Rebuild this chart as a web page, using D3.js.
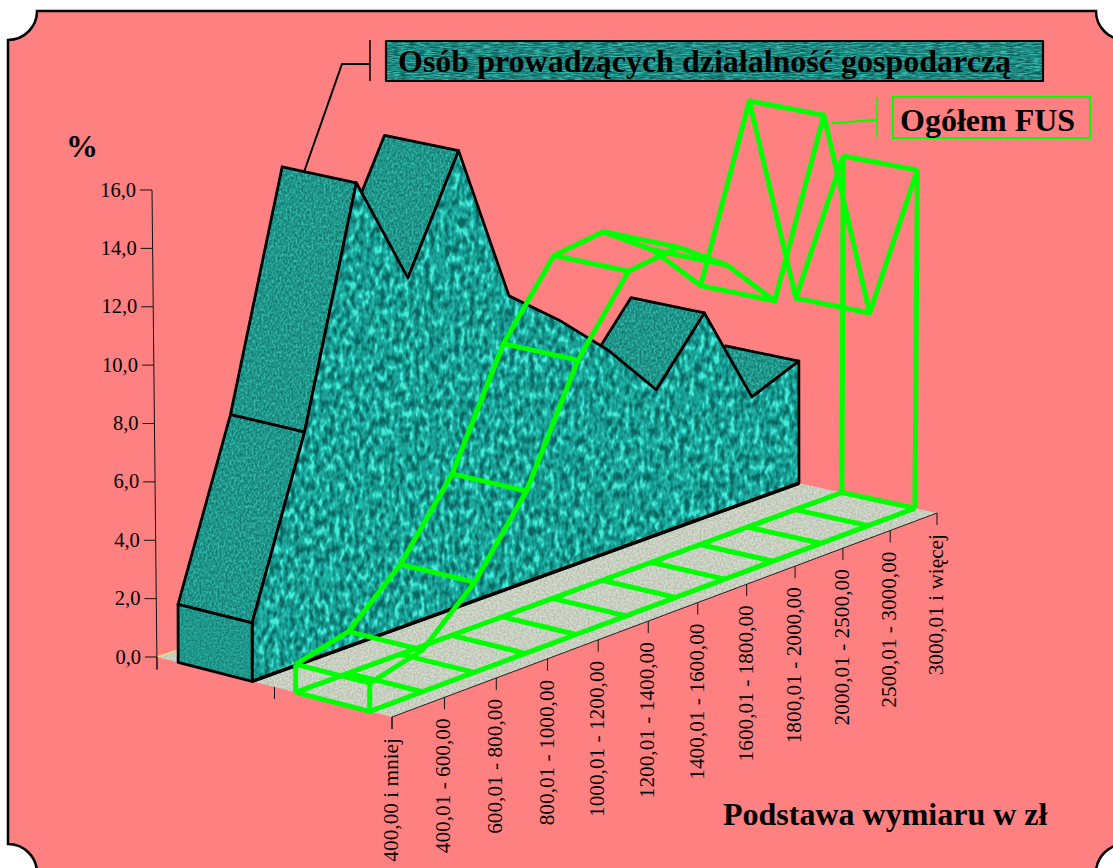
<!DOCTYPE html>
<html><head><meta charset="utf-8">
<script src="https://cdn.jsdelivr.net/npm/d3@7"></script>
<style>html,body{margin:0;padding:0;background:#fff;overflow:hidden}svg{display:block}text{font-family:"Liberation Serif","Times New Roman",serif;fill:#000}</style>
</head><body><svg id="c" width="1113" height="868"></svg>
<script>
const categories=["400,00 i mniej","400,01 - 600,00","600,01 - 800,00","800,01 - 1000,00","1000,01 - 1200,00","1200,01 - 1400,00","1400,01 - 1600,00","1600,01 - 1800,00","1800,01 - 2000,00","2000,01 - 2500,00","2500,01 - 3000,00","3000,01 i więcej"];
const gospodarcza=[2.0,7.89,15.79,11.89,15.62,10.02,8.58,6.94,4.97,7.01,3.54,4.19];
const ogolemFus=[0.96,1.42,3.07,5.52,9.33,11.72,11.91,10.68,8.85,14.56,7.23,11.5];
const yTicks=[0,2,4,6,8,10,12,14,16];
const seriesNames=["Osób prowadzących działalność gospodarczą","Ogółem FUS"];

const svg=d3.select("#c");
const W=1113,H=868;
// oblique projection with a slight perspective
const tS=d3.scalePoint().domain(d3.range(categories.length)).range([0,1]);
const persp=1.065;
const warp=t=>persp*t/(1+(persp-1)*t);
const sS=d3.scaleLinear().domain([0,2]).range([0,1]);
const yS=d3.scaleLinear().domain([0,16]).range([657,190]);
const hScale=d3.scaleLinear().domain([0,2]).range([0.993,1.009]);
const lean=d3.scaleLinear().domain([0,0.81,1.18,2]).range([-0.002,-0.001,0.004,0.008]);
const cO=[157,657],cF=[392,717],cR=[937,513],cB=[705,463];
function floorPt(i,s){const t=warp(tS(i)),u=sS(s);
  const a=d3.interpolate(cO,cF)(u),b=d3.interpolate(cB,cR)(u);
  return d3.interpolate(a,b)(t);}
function P(i,s,v){const p=floorPt(i,s),h=(yS(0)-yS(v))*hScale(s);return [p[0]+lean(s)*h,p[1]-h];}
const bandA=[0.18,0.81],bandB=[1.18,1.81];
const poly=pts=>pts.map(p=>p.join(",")).join(" ");
const line=d3.line();

const defs=svg.append("defs");
function tex(id,fx,fy,octaves,seed,lo,hi,r,g,b){
  const f=defs.append("filter").attr("id",id).attr("filterUnits","userSpaceOnUse")
    .attr("x",0).attr("y",0).attr("width",W).attr("height",H).attr("color-interpolation-filters","sRGB");
  f.append("feTurbulence").attr("type","fractalNoise").attr("baseFrequency",fx+" "+fy).attr("numOctaves",octaves).attr("seed",seed);
  f.append("feColorMatrix").attr("type","matrix").attr("values","1 0 0 0 0 1 0 0 0 0 1 0 0 0 0 0 0 0 0 1");
  const ct=f.append("feComponentTransfer");
  const s=1/(hi-lo);
  ct.append("feFuncR").attr("type","linear").attr("slope",s).attr("intercept",-lo*s);
  ct.append("feFuncG").attr("type","linear").attr("slope",s).attr("intercept",-lo*s);
  ct.append("feFuncB").attr("type","linear").attr("slope",s).attr("intercept",-lo*s);
  const c2=f.append("feComponentTransfer");
  c2.append("feFuncR").attr("type","table").attr("tableValues",r);
  c2.append("feFuncG").attr("type","table").attr("tableValues",g);
  c2.append("feFuncB").attr("type","table").attr("tableValues",b);
}
tex("tFront",0.2,0.11,2,4,0.28,0.72,"0.04 0.07 0.10 0.14 0.28","0.40 0.52 0.63 0.74 0.92","0.38 0.49 0.59 0.69 0.84");
tex("tTop",0.5,0.35,3,9,0.30,0.70,"0.08 0.11 0.14 0.20","0.49 0.56 0.62 0.72","0.45 0.52 0.57 0.66");
tex("tEnd",0.5,0.5,2,12,0.30,0.70,"0.08 0.11 0.14 0.17","0.51 0.57 0.62 0.68","0.47 0.52 0.57 0.62");
tex("tLegend",0.12,0.9,3,6,0.30,0.70,"0.05 0.10 0.14 0.22","0.38 0.50 0.58 0.72","0.36 0.47 0.55 0.68");
tex("tFloor",0.5,0.5,2,3,0.30,0.70,"0.72 0.77 0.80 0.85","0.76 0.80 0.83 0.87","0.70 0.74 0.77 0.82");

let clipN=0;
function texPoly(g,pts,fid){
  const id="cp"+(clipN++);
  defs.append("clipPath").attr("id",id).append("polygon").attr("points",poly(pts));
  g.append("rect").attr("width",W).attr("height",H).attr("filter","url(#"+fid+")").attr("clip-path","url(#"+id+")");
}

// panel
svg.append("path").attr("d","M37,11 H1096 A29,29 0 0 0 1125,40 V844 A29,29 0 0 0 1096,873 H37 A29,29 0 0 0 8,844 V40 A29,29 0 0 0 37,11 Z")
  .attr("fill","#ff8080").attr("stroke","#000").attr("stroke-width",2.5);

// floor
const gFloor=svg.append("g");
const floorPts=[floorPt(0,0),floorPt(0,2),floorPt(11,2),floorPt(11,0)];
texPoly(gFloor,floorPts,"tFloor");
gFloor.append("line").attr("x1",cO[0]).attr("y1",cO[1]).attr("x2",178).attr("y2",650).attr("stroke","#f0e070").attr("stroke-width",1.5);
gFloor.append("line").attr("x1",cF[0]).attr("y1",cF[1]).attr("x2",cR[0]).attr("y2",cR[1]).attr("stroke","#222").attr("stroke-width",1);

// y axis
const gy=svg.append("g");
const axisLean=d3.scaleLinear().domain([0,16]).range([157,152]);
gy.append("line").attr("x1",axisLean(16)).attr("y1",yS(16)).attr("x2",157).attr("y2",670).attr("stroke","#111").attr("stroke-width",1);
const ay=d3.axisLeft(yS).tickValues(yTicks).tickFormat(d=>d3.format(".1f")(d).replace(".",",")).tickSize(12).tickPadding(4);
const gAxis=gy.append("g").call(ay);
gAxis.select(".domain").remove();
gAxis.selectAll(".tick").attr("transform",d=>`translate(${axisLean(d)},${yS(d)})`);
gAxis.selectAll("line").attr("stroke","#111");
gAxis.selectAll("text").style("font-size","20.5px").style("font-family",'"Liberation Serif"').attr("fill","#000");

// depth ticks & category ticks
[[0,0],[0,1],[0,2]].forEach(([i,s])=>{const p=floorPt(i,s);
  svg.append("line").attr("x1",p[0]).attr("y1",p[1]).attr("x2",p[0]).attr("y2",p[1]+12).attr("stroke","#111").attr("stroke-width",1);});
const gx=svg.append("g");
categories.forEach((c,i)=>{const p=floorPt(i,2);
  gx.append("line").attr("x1",p[0]).attr("y1",p[1]).attr("x2",p[0]).attr("y2",p[1]+12).attr("stroke","#111").attr("stroke-width",1);
  gx.append("text").attr("transform",`translate(${p[0]+6},${p[1]+21}) rotate(-90)`).attr("text-anchor","end").style("font-size","21.3px").text(c);
});

// series A
const gA=svg.append("g");
const A=(i,k)=>P(i,bandA[k],gospodarcza[i]);
function outline(g,pts,w){g.append("polygon").attr("points",poly(pts)).attr("fill","none").attr("stroke","#000").attr("stroke-width",w||2.8).attr("stroke-linejoin","round");}
for(let i=categories.length-2;i>=0;i--){
  if(gospodarcza[i+1]>gospodarcza[i]){
    const q=[A(i,0),A(i,1),A(i+1,1),A(i+1,0)];
    texPoly(gA,q,"tTop");outline(gA,q);
  }
}
const frontPts=[floorPt(0,bandA[1]),...categories.map((c,i)=>A(i,1)),floorPt(11,bandA[1])];
texPoly(gA,frontPts,"tFront");outline(gA,frontPts);
const endPts=[floorPt(0,bandA[0]),floorPt(0,bandA[1]),A(0,1),A(0,0)];
texPoly(gA,endPts,"tEnd");outline(gA,endPts);
gA.append("line").attr("x1",floorPt(0,bandA[1])[0]).attr("y1",floorPt(0,bandA[1])[1]).attr("x2",floorPt(11,bandA[1])[0]).attr("y2",floorPt(11,bandA[1])[1]).attr("stroke","#000").attr("stroke-width",3.5);

// series B wireframe
const gB=svg.append("g").attr("fill","none").attr("stroke","#00ff00").attr("stroke-width",5).attr("stroke-linejoin","round");
const B=(i,k)=>P(i,bandB[k],ogolemFus[i]);
const fl=(i,k)=>floorPt(i,bandB[k]);
const idx=d3.range(categories.length);
gB.append("path").attr("d",line(idx.map(i=>fl(i,0))));
gB.append("path").attr("d",line(idx.map(i=>fl(i,1))));
idx.forEach(i=>gB.append("path").attr("d",line([fl(i,0),fl(i,1)])));
[[0,0],[0,1],[11,0],[11,1]].forEach(([i,k])=>gB.append("path").attr("d",line([fl(i,k),B(i,k)])));
gB.append("path").attr("d",line(idx.map(i=>B(i,0))));
gB.append("path").attr("d",line(idx.map(i=>B(i,1))));
idx.forEach(i=>gB.append("path").attr("d",line([B(i,0),B(i,1)])));

// legends
const gL=svg.append("g");
gL.append("path").attr("d","M304,172 L342,64 H370").attr("fill","none").attr("stroke","#000").attr("stroke-width",2);
gL.append("line").attr("x1",370).attr("x2",370).attr("y1",40).attr("y2",81).attr("stroke","#000").attr("stroke-width",1.5);
const lb=[[386,41],[1043,41],[1043,81],[386,81]];
texPoly(gL,lb,"tLegend");outline(gL,lb,2.2);
gL.append("text").attr("x",398).attr("y",72).style("font-size","32px").style("font-weight","bold").text(seriesNames[0]);
gL.append("path").attr("d","M832,123 L877,120").attr("fill","none").attr("stroke","#00ff00").attr("stroke-width",2);
gL.append("line").attr("x1",877).attr("x2",877).attr("y1",97).attr("y2",138).attr("stroke","#00ff00").attr("stroke-width",1.5);
gL.append("rect").attr("x",893).attr("y",97).attr("width",197).attr("height",41).attr("fill","none").attr("stroke","#00ff00").attr("stroke-width",2);
gL.append("text").attr("x",900).attr("y",131).style("font-size","32px").style("font-weight","bold").text(seriesNames[1]);
svg.append("text").attr("x",66).attr("y",157).style("font-size","32px").style("font-weight","bold").text("%");
svg.append("text").attr("x",723).attr("y",825).style("font-size","32px").style("font-weight","bold").text("Podstawa wymiaru w zł");
</script></body></html>
